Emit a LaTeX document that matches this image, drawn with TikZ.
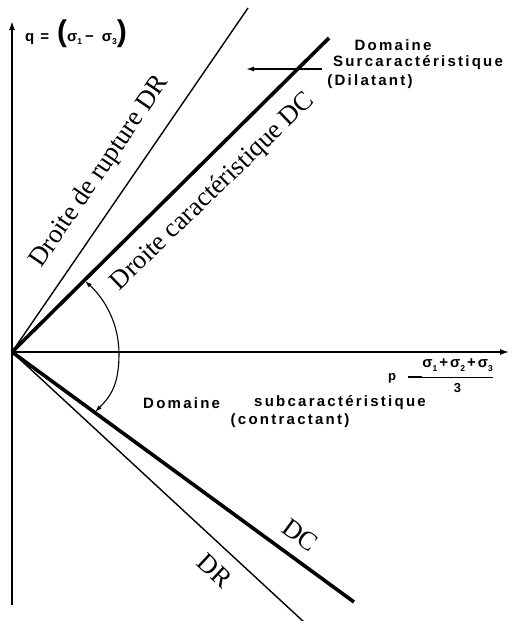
\documentclass[tikz,border=0pt]{standalone}
\usepackage{fontspec}
\setmainfont{Liberation Serif}
\newfontfamily\labfont[LetterSpace=15]{Liberation Sans Bold}
\newfontfamily\symfont{Liberation Sans Bold}
\usetikzlibrary{arrows.meta}
\newcommand{\lsub}[1]{\raisebox{-0.4ex}{\fontsize{8.5}{8.5}\selectfont #1}}
\begin{document}
\begin{tikzpicture}[x=1pt,y=-1pt,
  axis/.style={line width=1.7pt,-{Latex[length=9pt,width=6pt]}},
  drline/.style={line width=1.4pt},
  dcline/.style={line width=3.6pt},
  serif/.style={font=\fontsize{26.5}{27}\selectfont,inner sep=0pt},
  lab/.style={font=\labfont\fontsize{15}{15}\selectfont,inner sep=0pt},
  arcline/.style={line width=1.1pt,{Latex[length=7pt,width=4.5pt]}-{Latex[length=7pt,width=4.5pt]}}]
\useasboundingbox (0,0) rectangle (519,621);
% points
\coordinate (O) at (12,352);
\coordinate (ytop) at (12,21);
\coordinate (ybot) at (12,605);
\coordinate (xend) at (509,352);
\coordinate (DRu) at (248,8);
\coordinate (DCu) at (329,38);
\coordinate (DCl) at (354,602);
\coordinate (DRl) at (305,623);
% axes
\draw[axis] (ybot) -- (ytop);
\draw[axis,line width=1.4pt] (O) -- (xend);
% lines
\draw[drline] (O) -- (DRu);
\draw[dcline] (O) -- (DCu);
\draw[dcline] (O) -- (DCl);
\draw[drline] (O) -- (DRl);
% arc
\coordinate (A) at (85,281);
\coordinate (M) at (119,354);
\coordinate (B) at (95,412);
\draw[arcline] (A) .. controls (105,299) and (119,324) .. (M)
                   .. controls (119,384) and (111,396) .. (B);
% serif labels
\node[serif,rotate=55.7] (tdr) at (100,172) {Droite de rupture DR};
\node[serif,rotate=44] (tdc) at (213,192) {Droite caractéristique DC};
\node[serif,rotate=-36] (ldc) at (300,535) {DC};
\node[serif,rotate=-43] (ldr) at (215,571) {DR};
% axis labels
\node[inner sep=0pt,anchor=west] (qlab) at (25,34) {\symfont\fontsize{15}{15}\selectfont q\kern6pt=\kern8pt{\fontsize{30}{30}\selectfont(}σ\lsub{1}\kern3pt−\kern8pt σ\lsub{3}{\fontsize{30}{30}\selectfont)}};
\node[inner sep=0pt,anchor=west] (plab) at (388,376) {\symfont\fontsize{13}{13}\selectfont p\kern12pt$\vcenter{\hbox{\rule{14pt}{2pt}}}$\kern-1pt$\displaystyle{\hbox{\symfont\fontsize{15}{15}\selectfont σ\lsub{1}\kern2pt+\kern2pt σ\lsub{2}\kern2pt+\kern2pt σ\lsub{3}} \above 1.8pt \hbox{\symfont\fontsize{13}{13}\selectfont 3}}$};
% domain labels
\node[lab] (sur1) at (393,45) {Domaine};
\node[lab] (sur2) at (418,63) {Surcaractéristique};
\node[lab] (sur3) at (370,82) {(Dilatant)};
\coordinate (arrS) at (322,69);
\coordinate (arrE) at (246,69);
\draw[line width=1.4pt,-{Latex[length=8pt,width=5pt]}] (arrS) -- (arrE);
\node[lab,anchor=west] (sub1) at (143,403) {Domaine};
\node[lab,anchor=east] (sub2) at (426,403) {subcaractéristique};
\node[lab] (sub3) at (290,421) {(contractant)};
\end{tikzpicture}
\end{document}
